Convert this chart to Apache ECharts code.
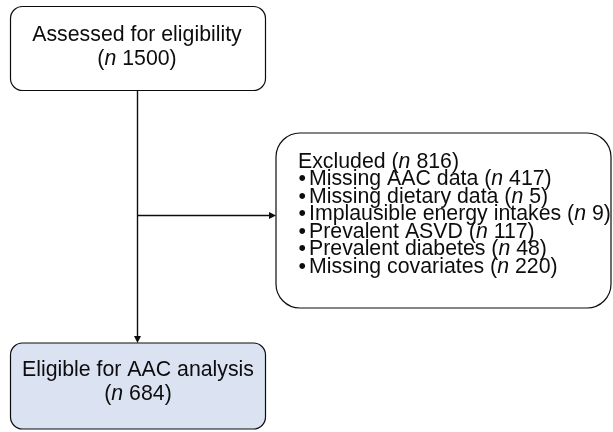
<!DOCTYPE html>
<html>
<head>
<meta charset="utf-8">
<script src="https://cdn.jsdelivr.net/npm/echarts@6/dist/echarts.min.js"></script>
<style>
html,body{margin:0;padding:0;background:#fff;}
#chart{width:613px;height:432px;}
</style>
</head>
<body>
<div id="chart"></div>
<script>
// ---- data ----
const assessedLabel = 'Assessed for eligibility';
const assessedN = 1500;
const excludedLabel = 'Excluded';
const excludedN = 816;
const exclusionReasons = ['Missing AAC data', 'Missing dietary data', 'Implausible energy intakes', 'Prevalent ASVD', 'Prevalent diabetes', 'Missing covariates'];
const exclusionCounts = [417, 5, 9, 117, 48, 220];
const eligibleLabel = 'Eligible for AAC analysis';
const eligibleN = 684;

// ---- drawing ----
const FONT = '"Liberation Sans", Arial, Helvetica, sans-serif';
const FS = 21.3;
const INK = '#0d0d0d';
const rich = {
  r: { fontFamily: FONT, fontSize: FS, fill: INK },
  i: { fontFamily: FONT, fontSize: FS, fontStyle: 'italic', fill: INK }
};
function nText(n) { return '{r|(}{i|n}{r| ' + n + ')}'; }
function txt(x, y, text, align) {
  return {
    type: 'text', silent: true,
    style: { x: x, y: y, text: text, rich: rich, align: align || 'left', verticalAlign: 'middle',
             fontFamily: FONT, fontSize: FS, fill: INK }
  };
}

const chart = echarts.init(document.getElementById('chart'), null, { renderer: 'canvas' });
const els = [];
const lineStyle = { stroke: INK, lineWidth: 1.4, fill: null };

// boxes
els.push({ type: 'rect', shape: { x: 10.5, y: 6.5, width: 255, height: 84, r: 12 }, style: { fill: '#fff', stroke: INK, lineWidth: 1.2 } });
els.push({ type: 'rect', shape: { x: 276, y: 133, width: 335, height: 175, r: 24 }, style: { fill: '#fff', stroke: INK, lineWidth: 1.2 } });
els.push({ type: 'rect', shape: { x: 10.5, y: 343, width: 255, height: 86, r: 12 }, style: { fill: '#dbe3f2', stroke: INK, lineWidth: 1.2 } });

// connectors
els.push({ type: 'line', shape: { x1: 137.5, y1: 90.5, x2: 137.5, y2: 337 }, style: lineStyle });
els.push({ type: 'polygon', shape: { points: [[134, 336], [141, 336], [137.5, 343]] }, style: { fill: INK } });
els.push({ type: 'line', shape: { x1: 137.5, y1: 215.5, x2: 270, y2: 215.5 }, style: lineStyle });
els.push({ type: 'polygon', shape: { points: [[269, 212], [269, 219], [276, 215.5]] }, style: { fill: INK } });

// top box text
els.push(txt(137, 35.5, '{r|' + assessedLabel + '}', 'center'));
els.push(txt(137, 59, nText(assessedN), 'center'));

// exclusion text
els.push(txt(298, 162, '{r|' + excludedLabel + ' }' + nText(excludedN)));
exclusionReasons.forEach(function (reason, k) {
  const y = 179.5 + k * 17.5;
  els.push(txt(298.5, y, '{r|\u2022}'));
  els.push(txt(309, y, '{r|' + reason + ' }' + nText(exclusionCounts[k])));
});

// bottom box text
els.push(txt(138, 370, '{r|' + eligibleLabel + '}', 'center'));
els.push(txt(138, 394, nText(eligibleN), 'center'));

chart.setOption({ animation: false, backgroundColor: '#fff', graphic: { elements: els } });
</script>
</body>
</html>
